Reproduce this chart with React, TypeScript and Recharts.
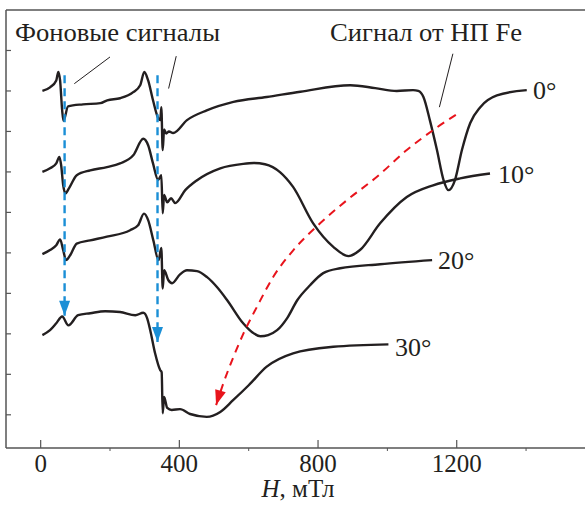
import React from "react";
import { LineChart, Line, XAxis, YAxis, ReferenceLine } from "recharts";

// field, mT
const hTicks = [0, 200, 400, 600, 800, 1000, 1200, 1400];
const yTicks = [1, 2, 3, 4, 5, 6, 7, 8, 9, 10];

// spectra (offset vertically)
const curve0 = [
	{ h: 5, v: 9.0 }, { h: 27, v: 9.09 }, { h: 45, v: 9.26 }, { h: 51, v: 9.47 },
	{ h: 56, v: 9.26 }, { h: 62, v: 8.52 }, { h: 66, v: 8.26 }, { h: 79, v: 8.62 },
	{ h: 122, v: 8.67 }, { h: 172, v: 8.7 }, { h: 192, v: 8.77 }, { h: 229, v: 8.82 },
	{ h: 267, v: 8.97 }, { h: 287, v: 9.14 }, { h: 299, v: 9.47 }, { h: 310, v: 9.26 },
	{ h: 324, v: 8.77 }, { h: 339, v: 8.33 }, { h: 345, v: 8.28 }, { h: 348, v: 8.6 },
	{ h: 352, v: 7.54 }, { h: 356, v: 8.05 }, { h: 362, v: 7.95 }, { h: 370, v: 8.0 },
	{ h: 382, v: 7.96 }, { h: 422, v: 8.28 }, { h: 479, v: 8.52 }, { h: 556, v: 8.73 },
	{ h: 652, v: 8.85 }, { h: 749, v: 8.98 }, { h: 893, v: 9.14 }, { h: 965, v: 9.07 },
	{ h: 1027, v: 9.0 }, { h: 1074, v: 9.02 }, { h: 1089, v: 9.0 }, { h: 1104, v: 8.85 },
	{ h: 1123, v: 8.26 }, { h: 1143, v: 7.54 }, { h: 1162, v: 6.8 }, { h: 1176, v: 6.55 },
	{ h: 1195, v: 6.8 }, { h: 1215, v: 7.54 }, { h: 1239, v: 8.21 }, { h: 1268, v: 8.6 },
	{ h: 1316, v: 8.89 }, { h: 1402, v: 9.02 },
];
const curve10 = [
	{ h: 5, v: 7.0 }, { h: 27, v: 7.09 }, { h: 45, v: 7.21 }, { h: 54, v: 7.37 },
	{ h: 59, v: 7.17 }, { h: 65, v: 6.67 }, { h: 71, v: 6.47 }, { h: 82, v: 6.6 },
	{ h: 104, v: 6.92 }, { h: 143, v: 7.04 }, { h: 191, v: 7.12 }, { h: 229, v: 7.21 },
	{ h: 267, v: 7.41 }, { h: 296, v: 7.82 }, { h: 310, v: 7.66 }, { h: 324, v: 7.21 },
	{ h: 339, v: 6.8 }, { h: 348, v: 6.92 }, { h: 352, v: 5.98 }, { h: 356, v: 6.43 },
	{ h: 365, v: 6.25 }, { h: 376, v: 6.35 }, { h: 388, v: 6.23 }, { h: 417, v: 6.55 },
	{ h: 450, v: 6.79 }, { h: 518, v: 7.09 }, { h: 584, v: 7.2 }, { h: 615, v: 7.22 },
	{ h: 647, v: 7.19 }, { h: 691, v: 6.99 }, { h: 728, v: 6.63 }, { h: 786, v: 5.73 },
	{ h: 844, v: 5.15 }, { h: 888, v: 4.92 }, { h: 921, v: 5.07 }, { h: 979, v: 5.73 },
	{ h: 1056, v: 6.38 }, { h: 1132, v: 6.67 }, { h: 1210, v: 6.84 }, { h: 1296, v: 6.96 },
];
const curve20 = [
	{ h: 5, v: 4.97 }, { h: 27, v: 5.07 }, { h: 45, v: 5.19 }, { h: 56, v: 5.33 },
	{ h: 65, v: 5.07 }, { h: 73, v: 4.82 }, { h: 85, v: 4.94 }, { h: 104, v: 5.23 },
	{ h: 143, v: 5.31 }, { h: 191, v: 5.4 }, { h: 258, v: 5.56 }, { h: 281, v: 5.68 },
	{ h: 298, v: 5.97 }, { h: 310, v: 5.81 }, { h: 325, v: 5.31 }, { h: 340, v: 4.82 },
	{ h: 348, v: 5.12 }, { h: 352, v: 4.12 }, { h: 356, v: 4.57 }, { h: 368, v: 4.33 },
	{ h: 379, v: 4.25 }, { h: 402, v: 4.47 }, { h: 422, v: 4.57 }, { h: 451, v: 4.55 },
	{ h: 480, v: 4.4 }, { h: 509, v: 4.15 }, { h: 538, v: 3.83 }, { h: 584, v: 3.26 },
	{ h: 610, v: 3.04 }, { h: 634, v: 2.94 }, { h: 656, v: 2.97 }, { h: 682, v: 3.09 },
	{ h: 711, v: 3.39 }, { h: 740, v: 3.83 }, { h: 777, v: 4.2 }, { h: 815, v: 4.5 },
	{ h: 864, v: 4.62 }, { h: 979, v: 4.72 }, { h: 1129, v: 4.82 },
];
const curve30 = [
	{ h: 5, v: 2.97 }, { h: 27, v: 3.09 }, { h: 45, v: 3.26 }, { h: 62, v: 3.43 },
	{ h: 80, v: 3.21 }, { h: 108, v: 3.46 }, { h: 143, v: 3.51 }, { h: 186, v: 3.56 },
	{ h: 229, v: 3.54 }, { h: 273, v: 3.46 }, { h: 296, v: 3.52 }, { h: 307, v: 3.39 },
	{ h: 316, v: 3.09 }, { h: 330, v: 2.52 }, { h: 345, v: 2.1 }, { h: 349, v: 2.05 },
	{ h: 352, v: 1.04 }, { h: 356, v: 1.44 }, { h: 365, v: 1.17 }, { h: 378, v: 1.12 },
	{ h: 402, v: 1.14 }, { h: 431, v: 1.02 }, { h: 479, v: 0.95 }, { h: 518, v: 1.07 },
	{ h: 555, v: 1.36 }, { h: 600, v: 1.73 }, { h: 652, v: 2.19 }, { h: 728, v: 2.52 },
	{ h: 844, v: 2.68 }, { h: 1003, v: 2.74 },
];

// arrows
const blueLeft = [{ h: 69, v: 9.39 }, { h: 69, v: 3.45 }];
const blueRight = [{ h: 337, v: 9.39 }, { h: 337, v: 2.8 }];
const redPath = [
	{ h: 506, v: 1.24 }, { h: 527, v: 1.78 }, { h: 556, v: 2.43 }, { h: 585, v: 3.01 },
	{ h: 624, v: 3.67 }, { h: 671, v: 4.41 }, { h: 729, v: 5.07 }, { h: 806, v: 5.73 },
	{ h: 883, v: 6.3 }, { h: 970, v: 6.88 }, { h: 1056, v: 7.54 }, { h: 1133, v: 8.04 },
	{ h: 1210, v: 8.48 },
];

const ink = "#231f20";
const frame = "#555555";
const serif = "Liberation Serif";

const HTick = (props: any) => {
	const { x, y, payload } = props;
	const major = payload.value % 400 === 0;
	return (
		<g>
			{major ? (
				<line x1={x} x2={x} y1={y} y2={y - 8} stroke={frame} strokeWidth={1.2} />
			) : (
				<line x1={x} x2={x} y1={y} y2={y + 3} stroke={frame} strokeWidth={1} />
			)}
			{major && (
				<text x={x} y={y + 24} textAnchor='middle' fill={ink} style={{ fontFamily: serif, fontSize: 25 }}>
					{payload.value}
				</text>
			)}
		</g>
	);
};

const VTick = (props: any) => {
	const { x, y } = props;
	return <line x1={x} x2={x + 5} y1={y} y2={y} stroke={frame} strokeWidth={1.2} />;
};

const arrowHead = (color: string, which: number, angle: number) => (props: any) => {
	const { cx, cy, index, key } = props;
	if (index !== which || cx == null) return <g key={key} />;
	return (
		<polygon
			key={key}
			points='0,0 -5.5,-15 5.5,-15'
			fill={color}
			transform={`translate(${cx},${cy}) rotate(${angle})`}
		/>
	);
};

const App = () => {
	return (
		<div style={{ position: "absolute", left: 0, top: 0, width: 585, height: 505, background: "#fff" }}>
			<LineChart width={585} height={505} margin={{ top: 9, right: 0, left: 5, bottom: 0 }}>
				<XAxis
					dataKey='h'
					type='number'
					domain={[-100, 1570]}
					allowDataOverflow
					ticks={hTicks}
					interval={0}
					tick={<HTick />}
					tickLine={false}
					tickSize={0}
					tickMargin={0}
					height={57}
					axisLine={{ stroke: frame, strokeWidth: 1.5 }}
				/>
				<XAxis
					xAxisId='top'
					orientation='top'
					dataKey='h'
					type='number'
					domain={[-100, 1570]}
					allowDataOverflow
					ticks={[]}
					tick={false}
					tickLine={false}
					height={1}
					axisLine={{ stroke: frame, strokeWidth: 1.5 }}
				/>
				<YAxis
					type='number'
					domain={[0.18, 11]}
					allowDataOverflow
					ticks={yTicks}
					interval={0}
					width={1}
					tick={<VTick />}
					tickLine={false}
					tickSize={0}
					tickMargin={0}
					axisLine={{ stroke: frame, strokeWidth: 1.5 }}
				/>
				<ReferenceLine segment={[{ x: 200, y: 9.84 }, { x: 97, y: 9.18 }]} stroke={ink} strokeWidth={1} ifOverflow='visible' />
				<ReferenceLine segment={[{ x: 391, y: 9.86 }, { x: 369, y: 9.06 }]} stroke={ink} strokeWidth={1} ifOverflow='visible' />
				<ReferenceLine segment={[{ x: 1189, y: 9.92 }, { x: 1150, y: 8.6 }]} stroke={ink} strokeWidth={1} ifOverflow='visible' />
				{[curve0, curve10, curve20, curve30].map((d, i) => (
					<Line
						key={i}
						data={d}
						dataKey='v'
						type='monotone'
						stroke={ink}
						strokeWidth={2.4}
						dot={false}
						activeDot={false}
						isAnimationActive={false}
					/>
				))}
				<Line
					data={blueLeft}
					dataKey='v'
					type='linear'
					stroke='#1b8fd6'
					strokeWidth={2.4}
					strokeDasharray='8 5'
					dot={arrowHead("#1b8fd6", 1, 0)}
					activeDot={false}
					isAnimationActive={false}
				/>
				<Line
					data={blueRight}
					dataKey='v'
					type='linear'
					stroke='#1b8fd6'
					strokeWidth={2.4}
					strokeDasharray='8 5'
					dot={arrowHead("#1b8fd6", 1, 0)}
					activeDot={false}
					isAnimationActive={false}
				/>
				<Line
					data={redPath}
					dataKey='v'
					type='monotone'
					stroke='#e8141c'
					strokeWidth={2}
					strokeDasharray='8 6'
					dot={arrowHead("#e8141c", 0, 17)}
					activeDot={false}
					isAnimationActive={false}
				/>
			</LineChart>
			<svg
				width={585}
				height={505}
				style={{ position: "absolute", left: 0, top: 0, pointerEvents: "none", fontFamily: serif }}
				fill={ink}>
				<text x={15} y={41} fontSize={25} textLength={205} lengthAdjust='spacingAndGlyphs'>
					Фоновые сигналы
				</text>
				<text x={330} y={41} fontSize={25} textLength={192} lengthAdjust='spacingAndGlyphs'>
					Сигнал от НП Fe
				</text>
				<text x={533} y={99} fontSize={26}>0°</text>
				<text x={498} y={183} fontSize={26}>10°</text>
				<text x={438} y={269} fontSize={26}>20°</text>
				<text x={395} y={356} fontSize={26}>30°</text>
				<text x={298} y={497} fontSize={25} textAnchor='middle'>
					<tspan fontStyle='italic'>H</tspan>, мТл
				</text>
			</svg>
		</div>
	);
};

export default App;
